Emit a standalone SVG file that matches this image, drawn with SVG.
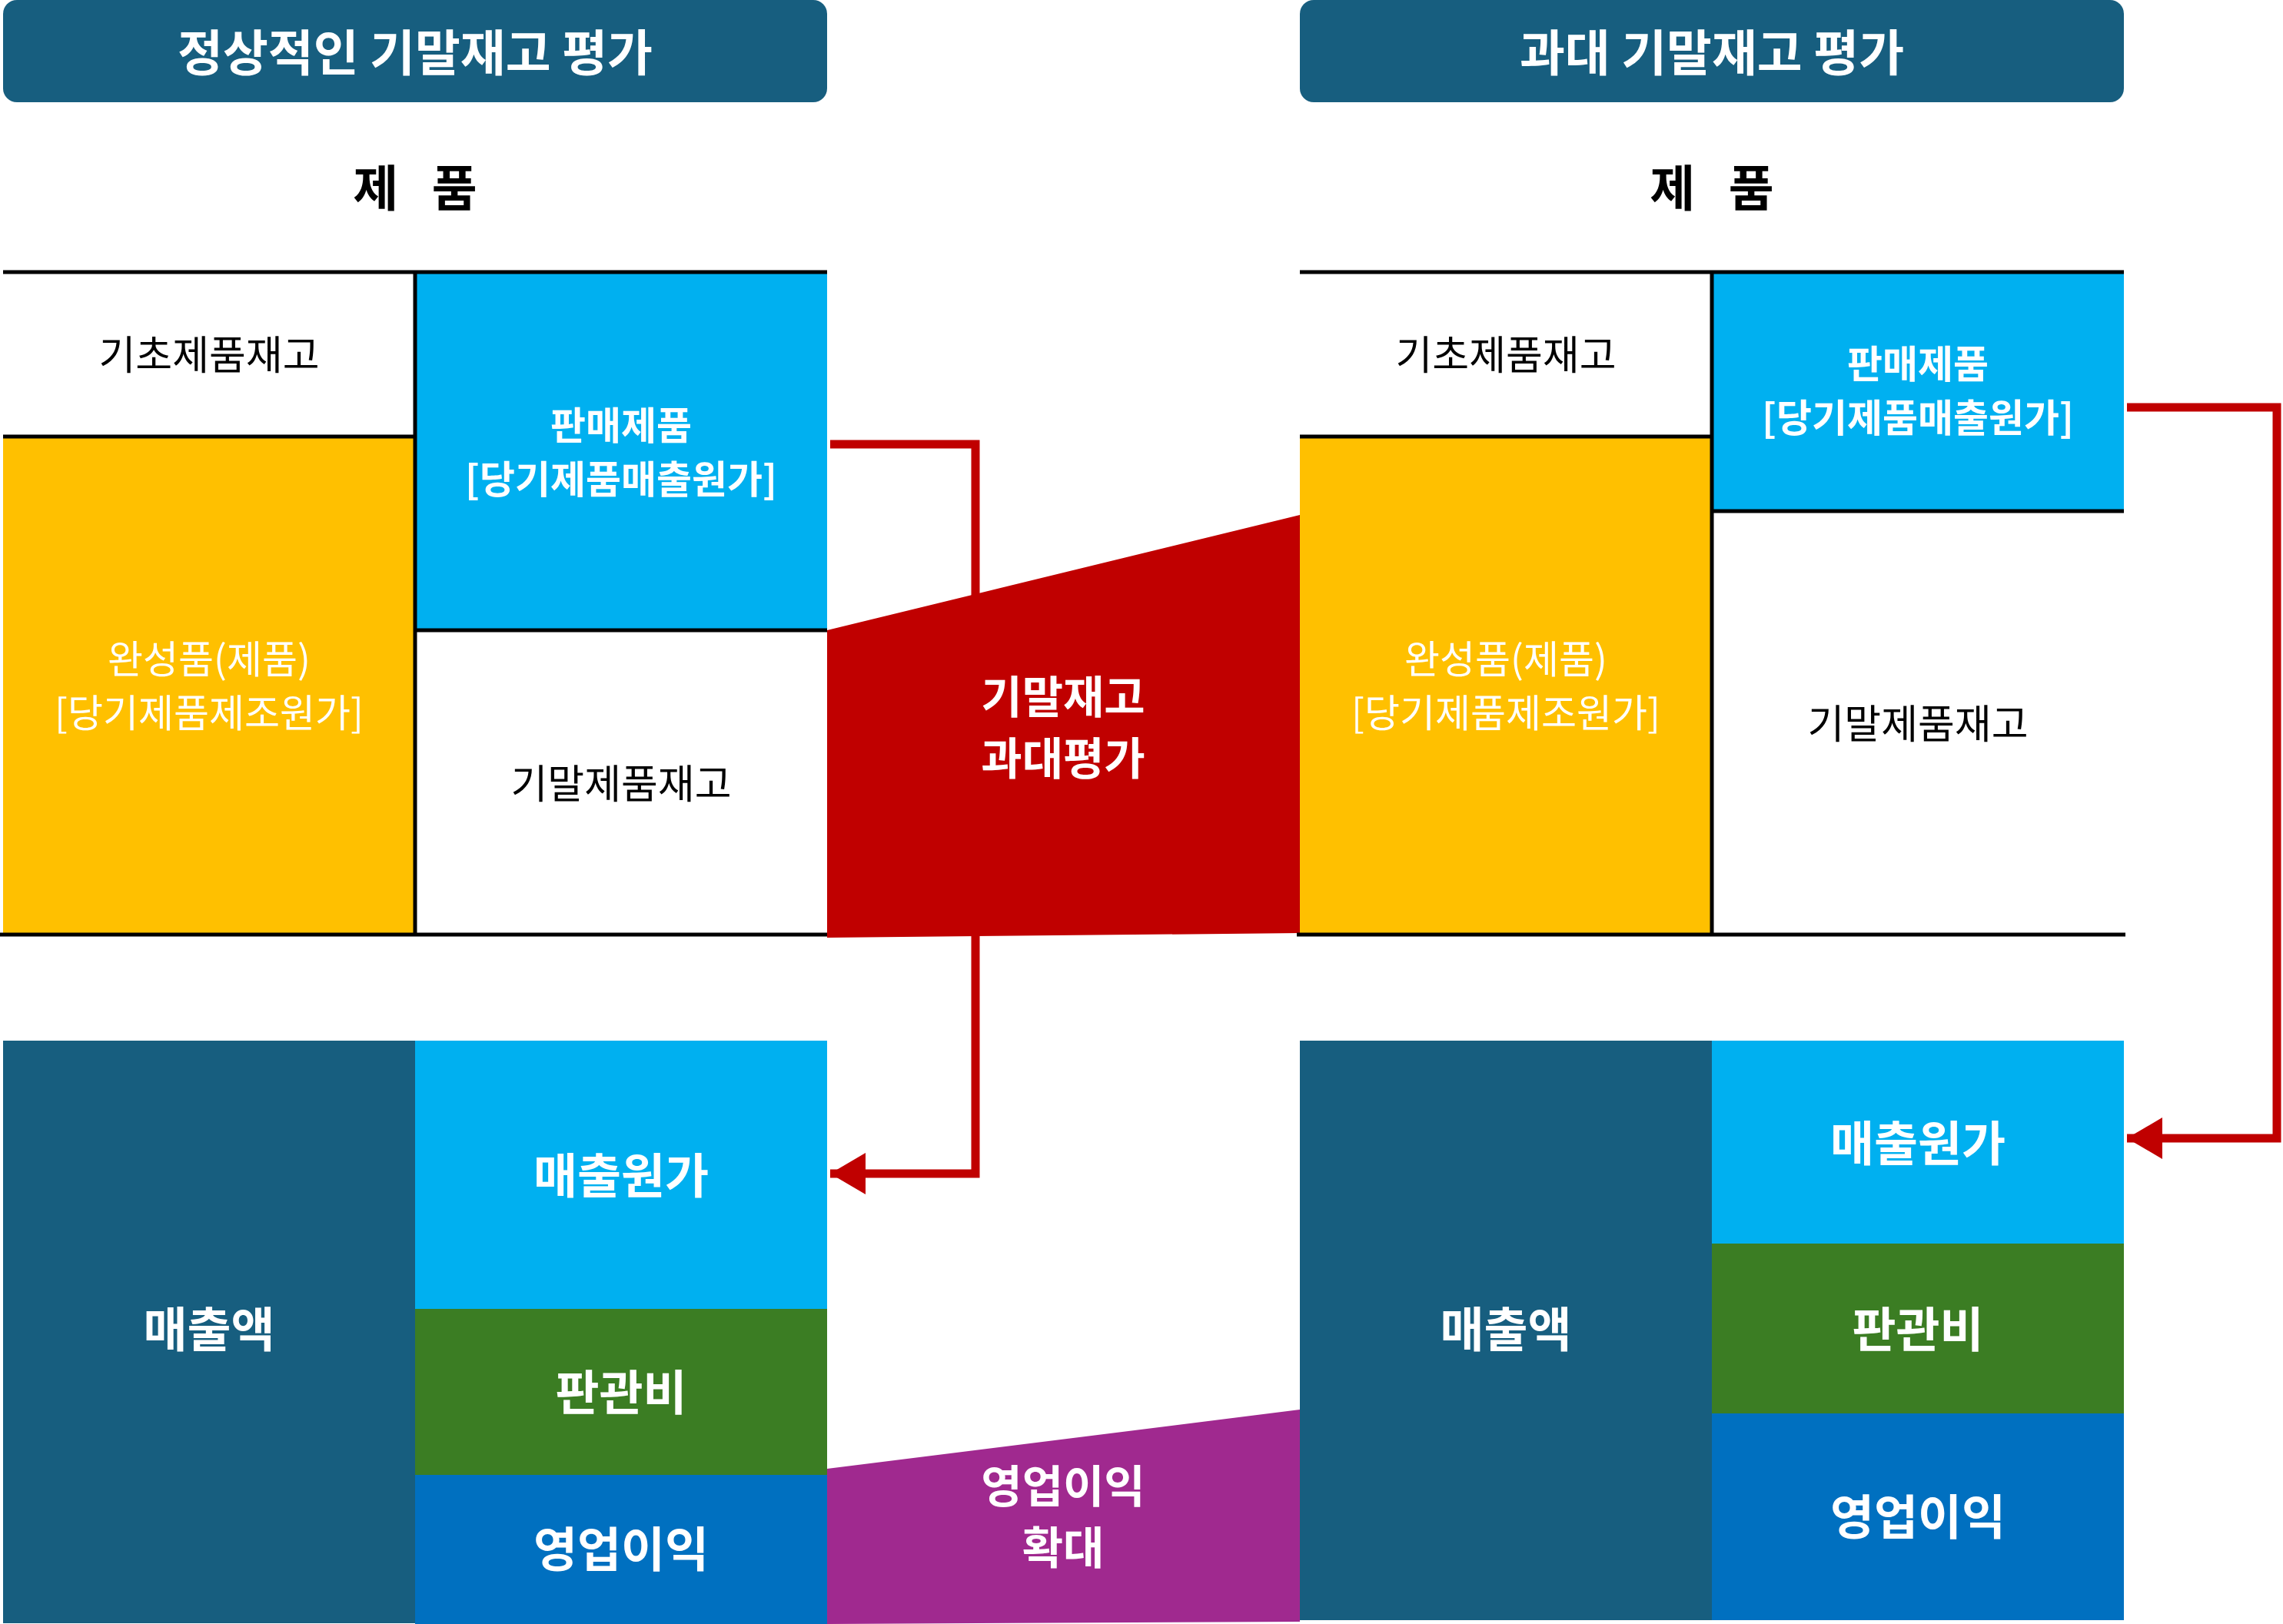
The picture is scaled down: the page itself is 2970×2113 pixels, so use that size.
<svg xmlns="http://www.w3.org/2000/svg" width="2970" height="2113" viewBox="0 0 2970 2113">
<style>
text{font-family:"Noto Sans CJK KR","Noto Sans",sans-serif;text-anchor:middle;dominant-baseline:central}
.t{fill:#fff;font-weight:bold;font-size:64px}
.h{fill:#000;font-weight:bold;font-size:64px}
.n{fill:#000;font-size:52px}
.w{fill:#fff;font-weight:bold;font-size:50px}
.y{fill:#fff;font-size:50px}
.b{fill:#fff;font-weight:bold;font-size:62px}
.b2{fill:#fff;font-weight:bold;font-size:58px}
.ln{stroke:#000;stroke-width:5}
.con{fill:none;stroke:#C00000;stroke-width:11}
</style>
<defs><marker id="ar" markerUnits="userSpaceOnUse" markerWidth="50" markerHeight="54" refX="46" refY="27" orient="auto"><path d="M0,0 L46,27 L0,54 Z" fill="#C00000"/></marker></defs>
<rect width="2970" height="2113" fill="#fff"/>
<g id="title-left"><rect x="4" y="0" width="1072" height="133" rx="18" fill="#175E7F"/><text class="t" x="540" y="64">정상적인 기말재고 평가</text></g>
<g id="title-right"><rect x="1691" y="0" width="1072" height="133" rx="18" fill="#175E7F"/><text class="t" x="2227" y="64">과대 기말재고 평가</text></g>
<g id="hdr-left"><text class="h" x="540" y="240" xml:space="preserve">제   품</text></g>
<g id="hdr-right"><text class="h" x="2227" y="240" xml:space="preserve">제   품</text></g>
<g id="connectors">
<path class="con" d="M1080,578 H1269 V780"/>
<path class="con" d="M1269,1210 V1527 H1080" marker-end="url(#ar)"/>
<path class="con" d="M2767,530 H2962 V1481 H2767" marker-end="url(#ar)"/>
</g>
<g id="left-top">
<rect x="4" y="568" width="536" height="648" fill="#FFC000"/>
<rect x="540" y="354" width="536" height="466" fill="#00B0F0"/>
<line class="ln" x1="4" y1="354" x2="1076" y2="354"/>
<line class="ln" x1="4" y1="568" x2="540" y2="568"/>
<line class="ln" x1="540" y1="820" x2="1076" y2="820"/>
<line class="ln" x1="0" y1="1216" x2="1076" y2="1216"/>
<line class="ln" x1="540" y1="354" x2="540" y2="1216"/>
<text class="n" x="272" y="458">기초제품재고</text>
<text class="w" x="808" y="550">판매제품</text>
<text class="w" x="808" y="620">[당기제품매출원가]</text>
<text class="y" x="272" y="854">완성품(제품)</text>
<text class="y" x="272" y="924">[당기제품제조원가]</text>
<text class="n" x="808" y="1016">기말제품재고</text>
</g>
<g id="overvalue"><path d="M1076,820 L1691,670 L1691,1214 L1076,1220 Z" fill="#C00000"/><text class="b2" x="1383" y="903">기말재고</text><text class="b2" x="1383" y="983">과대평가</text></g>
<g id="right-top">
<rect x="1691" y="568" width="536" height="648" fill="#FFC000"/>
<rect x="2227" y="354" width="536" height="311" fill="#00B0F0"/>
<line class="ln" x1="1691" y1="354" x2="2763" y2="354"/>
<line class="ln" x1="1691" y1="568" x2="2227" y2="568"/>
<line class="ln" x1="2227" y1="665" x2="2763" y2="665"/>
<line class="ln" x1="1687" y1="1216" x2="2765" y2="1216"/>
<line class="ln" x1="2227" y1="354" x2="2227" y2="1216"/>
<text class="n" x="1959" y="458">기초제품재고</text>
<text class="w" x="2495" y="470">판매제품</text>
<text class="w" x="2495" y="540">[당기제품매출원가]</text>
<text class="y" x="1959" y="854">완성품(제품)</text>
<text class="y" x="1959" y="924">[당기제품제조원가]</text>
<text class="n" x="2495" y="938">기말제품재고</text>
</g>
<g id="left-bottom">
<rect x="4" y="1354" width="536" height="758" fill="#175E7F"/>
<rect x="540" y="1354" width="536" height="349" fill="#00B0F0"/>
<rect x="540" y="1703" width="536" height="216" fill="#3B7D23"/>
<rect x="540" y="1919" width="536" height="194" fill="#0070C0"/>
<text class="b" x="272" y="1726">매출액</text>
<text class="b" x="808" y="1526">매출원가</text>
<text class="b" x="808" y="1808">판관비</text>
<text class="b" x="808" y="2012">영업이익</text>
</g>
<g id="profit"><path d="M1076,1911 L1691,1834 L1691,2110 L1076,2113 Z" fill="#A0298F"/><text class="b2" x="1383" y="1930">영업이익</text><text class="b2" x="1383" y="2010">확대</text></g>
<g id="right-bottom">
<rect x="1691" y="1354" width="536" height="754" fill="#175E7F"/>
<rect x="2227" y="1354" width="536" height="264" fill="#00B0F0"/>
<rect x="2227" y="1618" width="536" height="221" fill="#3B7D23"/>
<rect x="2227" y="1839" width="536" height="269" fill="#0070C0"/>
<text class="b" x="1959" y="1726">매출액</text>
<text class="b" x="2495" y="1484">매출원가</text>
<text class="b" x="2495" y="1726">판관비</text>
<text class="b" x="2495" y="1970">영업이익</text>
</g>
</svg>
